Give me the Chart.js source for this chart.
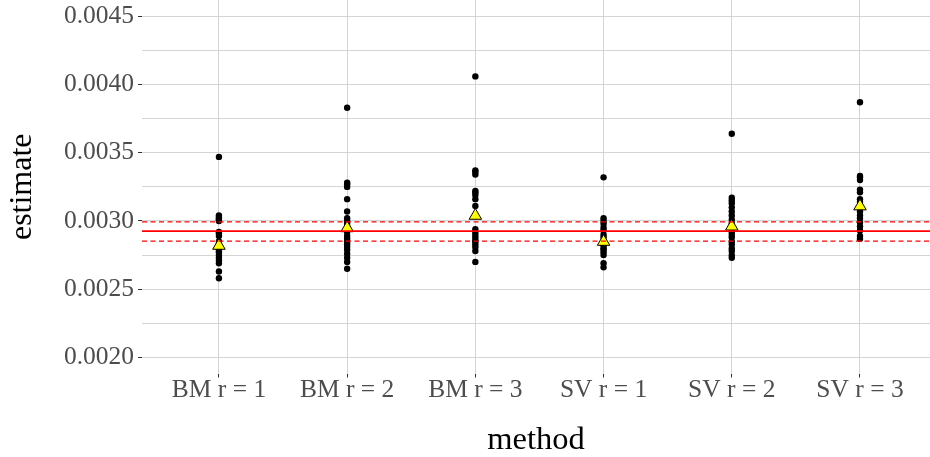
<!DOCTYPE html>
<html>
<head>
<meta charset="utf-8">
<script src="https://cdn.jsdelivr.net/npm/chart.js@4.4.1/dist/chart.umd.min.js"></script>
<style>
  html, body { margin: 0; padding: 0; background: #ffffff; }
  #wrap { width: 930px; height: 457px; position: relative; }
</style>
</head>
<body>
<div id="wrap"><canvas id="c" width="930" height="457"></canvas></div>
<script>
// ---- data ----
const categories = ["BM r = 1", "BM r = 2", "BM r = 3", "SV r = 1", "SV r = 2", "SV r = 3"];

const bmR1 = [0.00347, 0.00304, 0.00303, 0.00302, 0.00301, 0.00300, 0.00292, 0.00291, 0.00289,
              0.00285, 0.00283, 0.00280, 0.00278, 0.00277, 0.00275, 0.00273, 0.00271, 0.00269,
              0.00263, 0.00258];
const bmR2 = [0.00383, 0.00328, 0.00327, 0.00325, 0.00316, 0.00307, 0.00302, 0.00300, 0.00298,
              0.00295, 0.00292, 0.00289, 0.00287, 0.00285, 0.00283, 0.00281, 0.00279, 0.00276,
              0.00273, 0.00270, 0.00265];
const bmR3 = [0.00406, 0.00337, 0.00336, 0.00334, 0.00322, 0.00321, 0.00319, 0.00316, 0.00311,
              0.00294, 0.00292, 0.00290, 0.00288, 0.00286, 0.00285, 0.00283, 0.00281, 0.00278,
              0.00270];
const svR1 = [0.00332, 0.00302, 0.00300, 0.00298, 0.00295, 0.00293, 0.00290, 0.00288, 0.00285,
              0.00283, 0.00282, 0.00280, 0.00279, 0.00277, 0.00275, 0.00269, 0.00266];
const svR2 = [0.00364, 0.00317, 0.00315, 0.00313, 0.00310, 0.00307, 0.00304, 0.00301, 0.00298,
              0.00294, 0.00292, 0.00290, 0.00288, 0.00285, 0.00283, 0.00280, 0.00278, 0.00275,
              0.00273];
const svR3 = [0.00387, 0.00333, 0.00332, 0.00330, 0.00323, 0.00321, 0.00316, 0.00314, 0.00310,
              0.00307, 0.00304, 0.00302, 0.00299, 0.00296, 0.00293, 0.00289, 0.00287];

const centreValues = [0.002819, 0.002948, 0.003039, 0.002848, 0.002960, 0.003108];

const refSolid = 0.002926;
const refDashedUpper = 0.002993;
const refDashedLower = 0.002853;

const yTickLabels = ["0.0020", "0.0025", "0.0030", "0.0035", "0.0040", "0.0045"];

// ---- axis limits ----
const X_MIN = 0.4, X_MAX = 6.546;
const Y_MIN = 0.001882, Y_MAX = 0.00462;

const allSeries = [bmR1, bmR2, bmR3, svR1, svR2, svR3];
const pointData = [];
allSeries.forEach((arr, i) => arr.forEach(v => pointData.push({ x: i + 1, y: v })));
const centreData = centreValues.map((v, i) => ({ x: i + 1, y: v }));
const hLine = v => [{ x: X_MIN, y: v }, { x: X_MAX, y: v }];

const yMajor = yTickLabels.map(Number);
const yAll = [];
for (let k = 0; k < yMajor.length; k++) {
  yAll.push(yMajor[k]);
  if (k < yMajor.length - 1) yAll.push((yMajor[k] + yMajor[k + 1]) / 2);
}
const isMajor = v => yMajor.some(m => Math.abs(m - v) < 1e-9);

const SERIF = "'Liberation Serif', 'DejaVu Serif', serif";

new Chart(document.getElementById('c'), {
  type: 'scatter',
  data: {
    datasets: [
      { data: hLine(refSolid), showLine: true, borderColor: '#ff0000', borderWidth: 1.6,
        pointRadius: 0, pointHoverRadius: 0 },
      { data: hLine(refDashedUpper), showLine: true, borderColor: '#ff0000', borderWidth: 1.3,
        borderDash: [5, 3.5], pointRadius: 0, pointHoverRadius: 0 },
      { data: hLine(refDashedLower), showLine: true, borderColor: '#ff0000', borderWidth: 1.3,
        borderDash: [5, 3.5], pointRadius: 0, pointHoverRadius: 0 },
      { data: centreData, pointStyle: 'triangle', pointRadius: 7.2, backgroundColor: '#ffff00',
        borderColor: '#000000', borderWidth: 1 },
      { data: pointData, pointRadius: 3.2, backgroundColor: '#000000', borderWidth: 0 }
    ]
  },
  options: {
    responsive: false,
    animation: false,
    devicePixelRatio: 1,
    layout: { padding: 0, autoPadding: false },
    plugins: { legend: { display: false }, tooltip: { enabled: false } },
    scales: {
      x: {
        type: 'linear',
        min: X_MIN, max: X_MAX,
        afterBuildTicks: s => { s.ticks = categories.map((c, i) => ({ value: i + 1 })); },
        afterFit: s => { s.height = 83.5; s.paddingLeft = 0; s.paddingRight = 0; },
        grid: { color: '#d4d4d4', lineWidth: 1, tickLength: 4, tickColor: '#333333', tickWidth: 1 },
        border: { display: false },
        ticks: {
          callback: v => categories[Math.round(v) - 1],
          color: '#4d4d4d', padding: 0, maxRotation: 0, autoSkip: false,
          font: { family: SERIF, size: 25.5, lineHeight: 1 }
        },
        title: {
          display: true, text: 'method', color: '#000000',
          font: { family: SERIF, size: 32.5, lineHeight: 1 },
          padding: { top: 0, bottom: 0 }
        }
      },
      y: {
        type: 'linear',
        min: Y_MIN, max: Y_MAX,
        afterBuildTicks: s => { s.ticks = yAll.map(v => ({ value: v })); },
        afterFit: s => { s.width = 142; s.paddingTop = 0; s.paddingBottom = 0; },
        grid: {
          color: '#d4d4d4', lineWidth: 1, tickLength: 4, tickWidth: 1,
          tickColor: ctx => (ctx.tick && isMajor(ctx.tick.value)) ? '#333333' : 'rgba(0,0,0,0)'
        },
        border: { display: false },
        ticks: {
          callback: v => { const i = yMajor.findIndex(m => Math.abs(m - v) < 1e-9); return i >= 0 ? yTickLabels[i] : ''; },
          color: '#4d4d4d', padding: 4, autoSkip: false,
          font: { family: SERIF, size: 25.5, lineHeight: 1 }
        },
        title: {
          display: true, text: 'estimate', color: '#000000',
          font: { family: SERIF, size: 32, lineHeight: 1 },
          padding: { top: 7, bottom: 0 }
        }
      }
    }
  }
});
</script>
</body>
</html>
